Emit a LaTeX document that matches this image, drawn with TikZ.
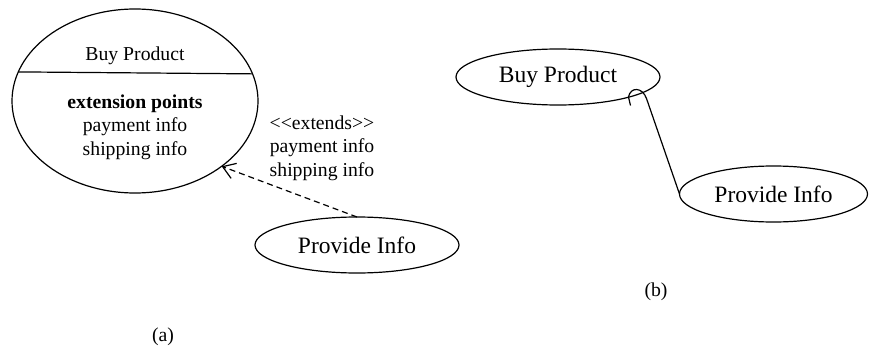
\documentclass[tikz,border=0pt]{standalone}
\usepackage{fontspec}
\setmainfont{Liberation Serif}
\usetikzlibrary{
    positioning,
    shapes.geometric,
    arrows.meta
}

\begin{document}
\begin{tikzpicture}[
    x=0.5pt, y=-0.5pt,
    usecase/.style={ellipse, draw, line width=0.6pt, inner sep=0pt, outer sep=0pt,
                    minimum width=#1},
    usecase/.default=102pt,
    smalltxt/.style={font=\fontsize{9.85pt}{11.75pt}\selectfont, align=center, inner sep=0pt},
    bigtxt/.style={font=\fontsize{11.75pt}{14pt}\selectfont, inner sep=0pt},
    extend/.style={-{Straight Barb[length=6pt, width=8pt]}, line width=0.6pt,
                   dash pattern=on 3pt off 2pt},
    assoc/.style={line width=0.6pt}
]
\useasboundingbox (0,0) rectangle (869,348);

% ============================================
% (a) use case with extension points
% ============================================
\node[usecase=123pt, minimum height=92pt] (bp) at (135,101) {};
\draw[line width=0.6pt] (bp.166.7) -- (bp.13.3);
\node[smalltxt] (bptitle) at (135,56) {Buy Product};
\node[smalltxt] (bppoints) at (135,127) {\textbf{extension points}\\payment info\\shipping info};

\node[usecase, minimum height=28pt] (pia) at (357,245) {};
\node[bigtxt] (piatxt) at (357,245) {Provide Info};

% extends relation
\node[smalltxt] (extlbl) at (322,148) {{<}{<}extends{>}{>}\\payment info\\shipping info};
\draw[extend] (pia.north) -- (bp.-37.2);

\node[smalltxt] (capa) at (163,337) {(a)};

% ============================================
% (b) plain use cases
% ============================================
\node[usecase, minimum height=28pt] (bpb) at (558,77) {};
\node[bigtxt] (bpbtxt) at (558,77) {Buy Product};

\node[usecase=94pt, minimum height=28pt] (pib) at (773.5,194) {};
\node[bigtxt] (pibtxt) at (773.5,194) {Provide Info};

\coordinate (hook) at (646.5,98.5);
\draw[assoc] (pib.west) -- (hook)
    .. controls (642.5,87) and (630.5,86.5) .. (628.5,97) -- (630.5,105.5);

\node[smalltxt] (capb) at (656,292) {(b)};

\end{tikzpicture}
\end{document}
